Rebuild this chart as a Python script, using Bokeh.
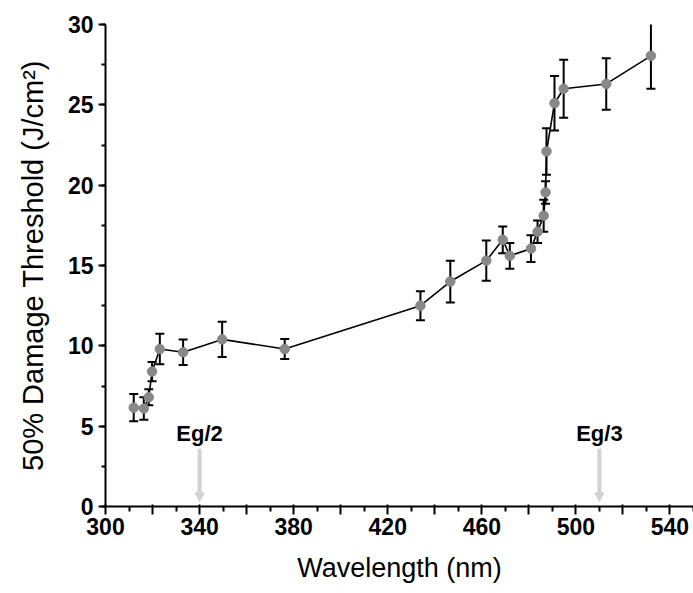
from bokeh.plotting import figure
from bokeh.models import (ColumnDataSource, Whisker, TeeHead, Arrow, NormalHead,
                          Range1d, FixedTicker, SingleIntervalTicker)
from bokeh.core.properties import value
from bokeh.embed import file_html
from bokeh.resources import INLINE

# ---- data ----
wavelength = [312.0, 316.3, 318.4, 319.8, 323.1, 333.0, 349.6, 376.2, 433.9, 446.6,
              461.9, 468.9, 471.9, 480.9, 483.7, 486.3, 487.1, 487.5, 490.9, 494.8,
              512.9, 531.9]
threshold = [6.15, 6.1, 6.8, 8.4, 9.8, 9.6, 10.4, 9.8, 12.5, 14.0,
             15.3, 16.6, 15.6, 16.05, 17.1, 18.1, 19.55, 22.1, 25.1, 26.0,
             26.3, 28.05]
error = [0.85, 0.7, 0.5, 0.6, 0.95, 0.8, 1.1, 0.62, 0.9, 1.3,
         1.25, 0.83, 0.8, 0.83, 0.7, 1.0, 0.7, 1.45, 1.7, 1.8,
         1.6, 2.05]

eg_labels = ["Eg/2", "Eg/3"]
eg_wavelength = [340, 510]

x_major = [300, 320, 340, 360, 380, 400, 420, 440, 460, 480, 500, 520, 540]
x_labelled = [300, 340, 380, 420, 460, 500, 540]
x_minor = [310, 330, 350, 370, 390, 410, 430, 450, 470, 490, 510, 530, 550]

FONT = "Liberation Sans"

p = figure(width=693, height=593, output_backend="svg", toolbar_location=None,
           x_range=Range1d(300, 550), y_range=Range1d(0, 30),
           min_border_left=105, min_border_right=0, min_border_top=24,
           min_border_bottom=87, outline_line_color=None,
           background_fill_color="white", border_fill_color="white")
p.xgrid.visible = False
p.ygrid.visible = False

# axes styling
p.xaxis.ticker = FixedTicker(ticks=x_major, minor_ticks=x_minor)
p.xaxis.major_label_overrides = {t: ("" if t not in x_labelled else str(t)) for t in x_major}
p.yaxis.ticker = SingleIntervalTicker(interval=5, num_minor_ticks=2)

for ax in (p.xaxis[0], p.yaxis[0]):
    ax.axis_line_width = 2
    ax.axis_line_color = "black"
    ax.major_tick_line_width = 2
    ax.minor_tick_line_width = 2
    ax.major_tick_line_color = "black"
    ax.minor_tick_line_color = "black"
    ax.major_label_text_font = FONT
    ax.major_label_text_font_style = "bold"
    ax.major_label_text_font_size = "23px"
    ax.major_label_text_color = "black"
    ax.axis_label_text_font = FONT
    ax.axis_label_text_font_style = "normal"
    ax.axis_label_text_color = "black"

p.xaxis.major_tick_in = 2
p.xaxis.major_tick_out = 8
p.xaxis.minor_tick_in = 0
p.xaxis.minor_tick_out = 5
p.xaxis.major_label_standoff = 3
p.xaxis.axis_label = "Wavelength (nm)"
p.xaxis.axis_label_text_font_size = "27px"
p.xaxis.axis_label_standoff = 15

p.yaxis.major_tick_in = 0
p.yaxis.major_tick_out = 7
p.yaxis.minor_tick_in = 0
p.yaxis.minor_tick_out = 4
p.yaxis.major_label_standoff = 5
p.yaxis.axis_label = "50% Damage Threshold (J/cm²)"
p.yaxis.axis_label_text_font_size = "29px"
p.yaxis.axis_label_standoff = 16

# data
upper = [t + e for t, e in zip(threshold, error)]
lower = [t - e for t, e in zip(threshold, error)]
src = ColumnDataSource(dict(x=wavelength, y=threshold, upper=upper, lower=lower))

p.line("x", "y", source=src, line_color="black", line_width=1.6)
whisk = Whisker(base="x", upper="upper", lower="lower", source=src,
                line_color="black", line_width=2,
                upper_head=TeeHead(size=9, line_width=2, line_color="black"),
                lower_head=TeeHead(size=9, line_width=2, line_color="black"))
p.add_layout(whisk)
p.scatter("x", "y", source=src, size=9.5, fill_color="#888888", line_color="#888888")

# band-gap arrows
ARROW_TOP = 3.6
ARROW_END = 0.3
for xe in eg_wavelength:
    p.add_layout(Arrow(end=NormalHead(size=9, fill_color="#d2d2d2", line_color="#d2d2d2"),
                       x_start=xe, y_start=ARROW_TOP, x_end=xe, y_end=ARROW_END,
                       line_color="#d2d2d2", line_width=4))
p.text(x=eg_wavelength, y=[ARROW_TOP + 0.15] * len(eg_wavelength), text=eg_labels,
       text_align="center", text_baseline="bottom", text_font=value(FONT),
       text_font_style="bold", text_font_size="22px", text_color="black")

open("out.html", "w").write(file_html(p, INLINE))
